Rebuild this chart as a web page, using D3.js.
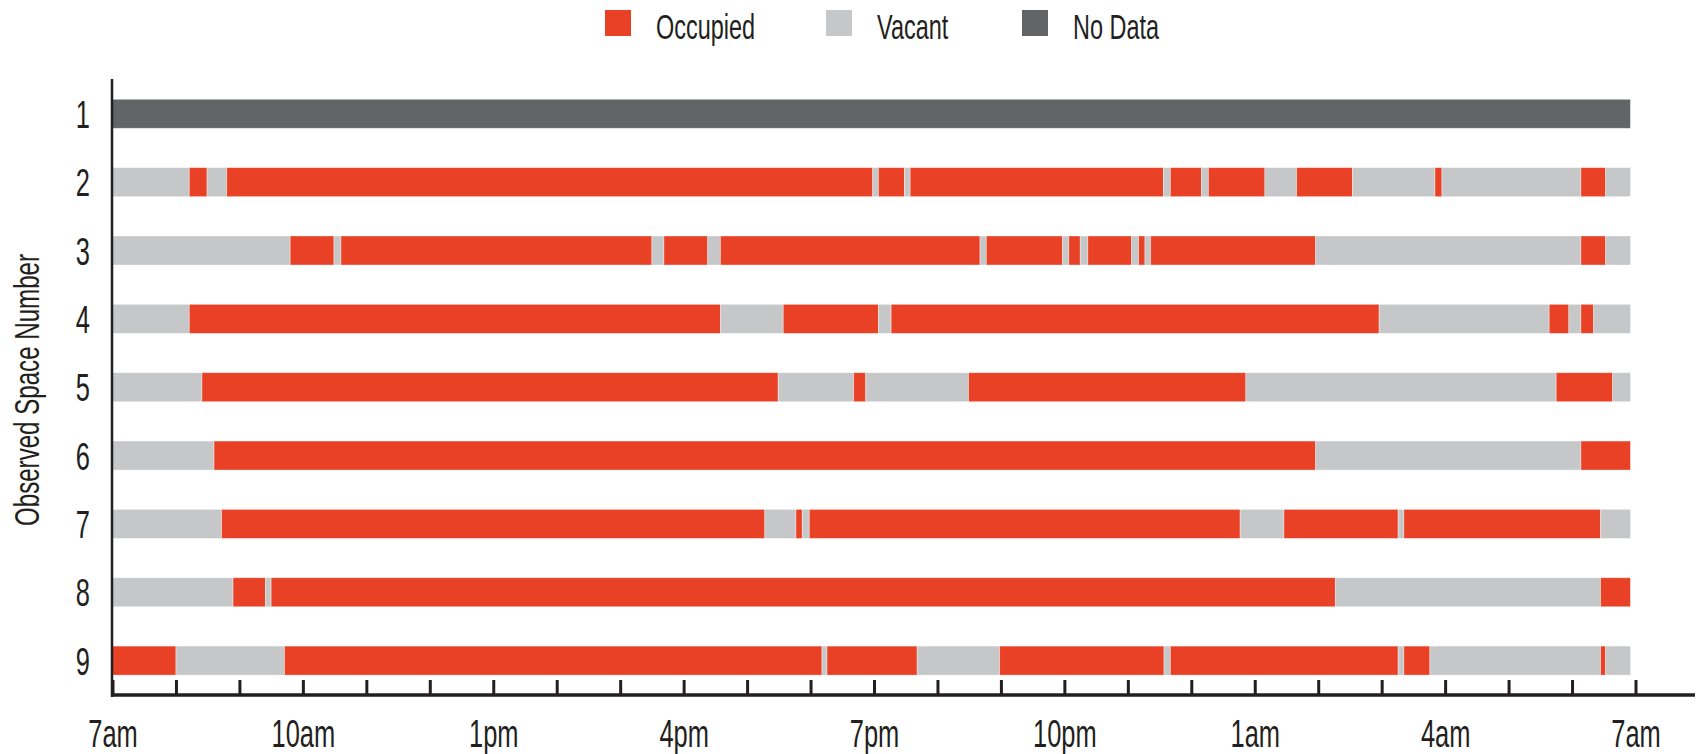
<!DOCTYPE html>
<html>
<head>
<meta charset="utf-8">
<script src="https://cdn.jsdelivr.net/npm/d3@7/dist/d3.min.js"></script>
<style>
  html, body { margin: 0; padding: 0; background: #fff; }
  svg text { font-family: "Liberation Sans", Arial, sans-serif; fill: #231f20; }
</style>
</head>
<body>
<div id="chart"></div>
<script>
// hours after 7am; each row lists [start, state] and runs to dataEnd
var spaces = ["1", "2", "3", "4", "5", "6", "7", "8", "9"];
var states = ["Occupied", "Vacant", "No Data"];
var stateColors = ["#e94126", "#c6c7c8", "#636466"];
var tickLabels = ["7am", "10am", "1pm", "4pm", "7pm", "10pm", "1am", "4am", "7am"];
var dataEnd = 23.92;

var space1 = [[0, "N"]];
var space2 = [[0, "V"], [1.21, "O"], [1.49, "V"], [1.80, "O"], [11.98, "V"], [12.07, "O"], [12.48, "V"], [12.57, "O"],
  [16.56, "V"], [16.67, "O"], [17.16, "V"], [17.27, "O"], [18.16, "V"], [18.66, "O"], [19.54, "V"], [20.84, "O"],
  [20.95, "V"], [23.14, "O"], [23.53, "V"]];
var space3 = [[0, "V"], [2.80, "O"], [3.49, "V"], [3.60, "O"], [8.50, "V"], [8.69, "O"], [9.38, "V"], [9.58, "O"],
  [13.67, "V"], [13.77, "O"], [14.97, "V"], [15.07, "O"], [15.25, "V"], [15.37, "O"], [16.06, "V"], [16.17, "O"],
  [16.27, "V"], [16.36, "O"], [18.96, "V"], [23.14, "O"], [23.53, "V"]];
var space4 = [[0, "V"], [1.21, "O"], [9.58, "V"], [10.57, "O"], [12.07, "V"], [12.27, "O"], [19.96, "V"], [22.64, "O"],
  [22.95, "V"], [23.14, "O"], [23.34, "V"]];
var space5 = [[0, "V"], [1.41, "O"], [10.49, "V"], [11.68, "O"], [11.87, "V"], [13.49, "O"], [17.86, "V"], [22.75, "O"],
  [23.64, "V"]];
var space6 = [[0, "V"], [1.60, "O"], [18.96, "V"], [23.14, "O"]];
var space7 = [[0, "V"], [1.72, "O"], [10.28, "V"], [10.77, "O"], [10.87, "V"], [10.98, "O"], [17.77, "V"], [18.46, "O"],
  [20.26, "V"], [20.35, "O"], [23.45, "V"]];
var space8 = [[0, "V"], [1.90, "O"], [2.41, "V"], [2.50, "O"], [19.27, "V"], [23.45, "O"]];
var space9 = [[0, "O"], [1.00, "V"], [2.71, "O"], [11.18, "V"], [11.26, "O"], [12.68, "V"], [13.98, "O"], [16.57, "V"],
  [16.67, "O"], [20.26, "V"], [20.35, "O"], [20.76, "V"], [23.45, "O"], [23.53, "V"]];

var rows = [space1, space2, space3, space4, space5, space6, space7, space8, space9];
var codeToState = { O: "Occupied", V: "Vacant", N: "No Data" };

// turn change points into segments
var segments = [];
rows.forEach(function (row, i) {
  for (var j = 0; j < row.length; j++) {
    segments.push({
      space: spaces[i],
      start: row[j][0],
      end: j < row.length - 1 ? row[j + 1][0] : dataEnd,
      state: codeToState[row[j][1]]
    });
  }
});

var width = 1698, height = 754;
var squeeze = "scale(0.67,1)";

var svg = d3.select("#chart").append("svg")
  .attr("width", width)
  .attr("height", height);

var x = d3.scaleLinear().domain([0, 24]).range([112.5, 1635.5]);
var y = d3.scalePoint().domain(spaces).range([113.8, 660.6]);
var color = d3.scaleOrdinal().domain(states).range(stateColors);
var barHeight = 29;

// bars
svg.append("g")
  .selectAll("rect")
  .data(segments)
  .enter()
  .append("rect")
  .attr("x", function (d) { return x(d.start); })
  .attr("width", function (d) { return x(d.end) - x(d.start); })
  .attr("y", function (d) { return y(d.space) - barHeight / 2; })
  .attr("height", barHeight)
  .style("fill", function (d) { return color(d.state); })
  .style("stroke", "#ffffff")
  .style("stroke-opacity", 0.45)
  .style("stroke-width", 0.8);

// x axis, ticks pointing up
var xAxis = d3.axisBottom(x)
  .tickValues(d3.range(0, 25))
  .tickSize(-15)
  .tickFormat(function (d) { return d % 3 === 0 ? tickLabels[d / 3] : ""; });

var gx = svg.append("g")
  .attr("transform", "translate(0,695)")
  .call(xAxis);
gx.select(".domain").remove();
gx.selectAll(".tick line")
  .attr("stroke", "#231f20")
  .attr("stroke-width", 3);
gx.selectAll(".tick text")
  .attr("y", 0)
  .attr("dy", 0)
  .attr("transform", "translate(0,52) " + squeeze)
  .style("font-size", "38px")
  .style("fill", "#231f20");

svg.append("line")
  .attr("x1", 111).attr("x2", 1695)
  .attr("y1", 695).attr("y2", 695)
  .attr("stroke", "#231f20")
  .attr("stroke-width", 3.5);

svg.append("line")
  .attr("x1", 112).attr("x2", 112)
  .attr("y1", 79).attr("y2", 697)
  .attr("stroke", "#231f20")
  .attr("stroke-width", 2.5);

// y labels
svg.append("g")
  .selectAll("text")
  .data(spaces)
  .enter()
  .append("text")
  .attr("transform", function (d) { return "translate(90," + (y(d) + 14) + ") " + squeeze; })
  .attr("text-anchor", "end")
  .style("font-size", "38px")
  .text(function (d) { return d; });

svg.append("text")
  .attr("transform", "translate(39,390) rotate(-90) " + squeeze)
  .attr("text-anchor", "middle")
  .style("font-size", "36px")
  .text("Observed Space Number");

// legend
var legendX = [605, 826, 1022];
var legend = svg.append("g")
  .selectAll("g")
  .data(states)
  .enter()
  .append("g")
  .attr("transform", function (d, i) { return "translate(" + legendX[i] + ",10)"; });
legend.append("rect")
  .attr("width", 26)
  .attr("height", 26)
  .style("fill", function (d) { return color(d); });
legend.append("text")
  .attr("transform", "translate(51,29) " + squeeze)
  .style("font-size", "35px")
  .text(function (d) { return d; });
</script>
</body>
</html>
